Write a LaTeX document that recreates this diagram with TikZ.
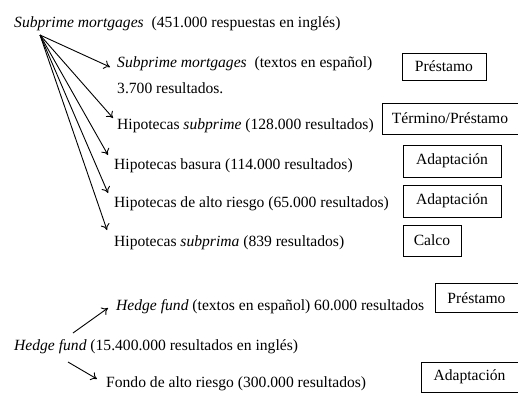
\documentclass[tikz,border=0pt]{standalone}
\usepackage{fontspec}
\setmainfont{Liberation Serif}
\usetikzlibrary{arrows.meta}
\begin{document}
\begin{tikzpicture}[x=1pt,y=-1pt,
  lbl/.style={anchor=west,inner sep=0pt,font=\fontsize{15.6}{18}\selectfont},
  tag/.style={draw,line width=0.9pt,inner sep=0pt,font=\fontsize{15.6}{18}\selectfont},
  arr/.style={-{To[length=6pt,width=9pt]},line width=0.9pt}]
\useasboundingbox (0,0) rectangle (518,392);
% texts
\node[lbl] (s0) at (14,24) {\textit{Subprime mortgages}\ \ (451.000 respuestas en inglés)};
\node[lbl] (s1) at (117,64) {\textit{Subprime mortgages}\ \ (textos en español)};
\node[lbl] (s1b) at (117,88) {3.700 resultados.};
\node[lbl] (s2) at (117,126) {Hipotecas \textit{subprime} (128.000 resultados)};
\node[lbl] (s3) at (114,166) {Hipotecas basura (114.000 resultados)};
\node[lbl] (s4) at (114,204) {Hipotecas de alto riesgo (65.000 resultados)};
\node[lbl] (s5) at (114,243) {Hipotecas \textit{subprima} (839 resultados)};
\node[lbl] (h1) at (116,307) {\textit{Hedge fund} (textos en español) 60.000 resultados};
\node[lbl] (h0) at (14,347) {\textit{Hedge fund} (15.400.000 resultados en inglés)};
\node[lbl] (h2) at (106,384) {Fondo de alto riesgo (300.000 resultados)};
% boxes
\node[tag,minimum width=84,minimum height=27] (b1) at (444,66.5) {Préstamo};
\node[tag,minimum width=136,minimum height=31] (b2) at (450,118.5) {Término/Préstamo};
\node[tag,minimum width=98,minimum height=32] (b3) at (452,161) {Adaptación};
\node[tag,minimum width=98,minimum height=32] (b4) at (452,201) {Adaptación};
\node[tag,minimum width=58,minimum height=31] (b5) at (432,240.5) {Calco};
\node[tag,minimum width=83,minimum height=29] (b6) at (476.5,298) {Préstamo};
\node[tag,minimum width=97,minimum height=30] (b7) at (469.5,377) {Adaptación};
% arrows
\coordinate (r) at (40,35);
\coordinate (t1) at (110,67);
\coordinate (t2) at (113,118);
\coordinate (t3) at (108,155);
\coordinate (t4) at (108,193);
\coordinate (t5) at (107,230);
\draw[arr] (r) -- (t1);
\draw[arr] (r) -- (t2);
\draw[arr] (r) -- (t3);
\draw[arr] (r) -- (t4);
\draw[arr] (r) -- (t5);
\coordinate (hu) at (73,333);
\coordinate (hut) at (108,308);
\coordinate (hd) at (68,362);
\coordinate (hdt) at (97,379);
\draw[arr] (hu) -- (hut);
\draw[arr] (hd) -- (hdt);
\end{tikzpicture}
\end{document}
